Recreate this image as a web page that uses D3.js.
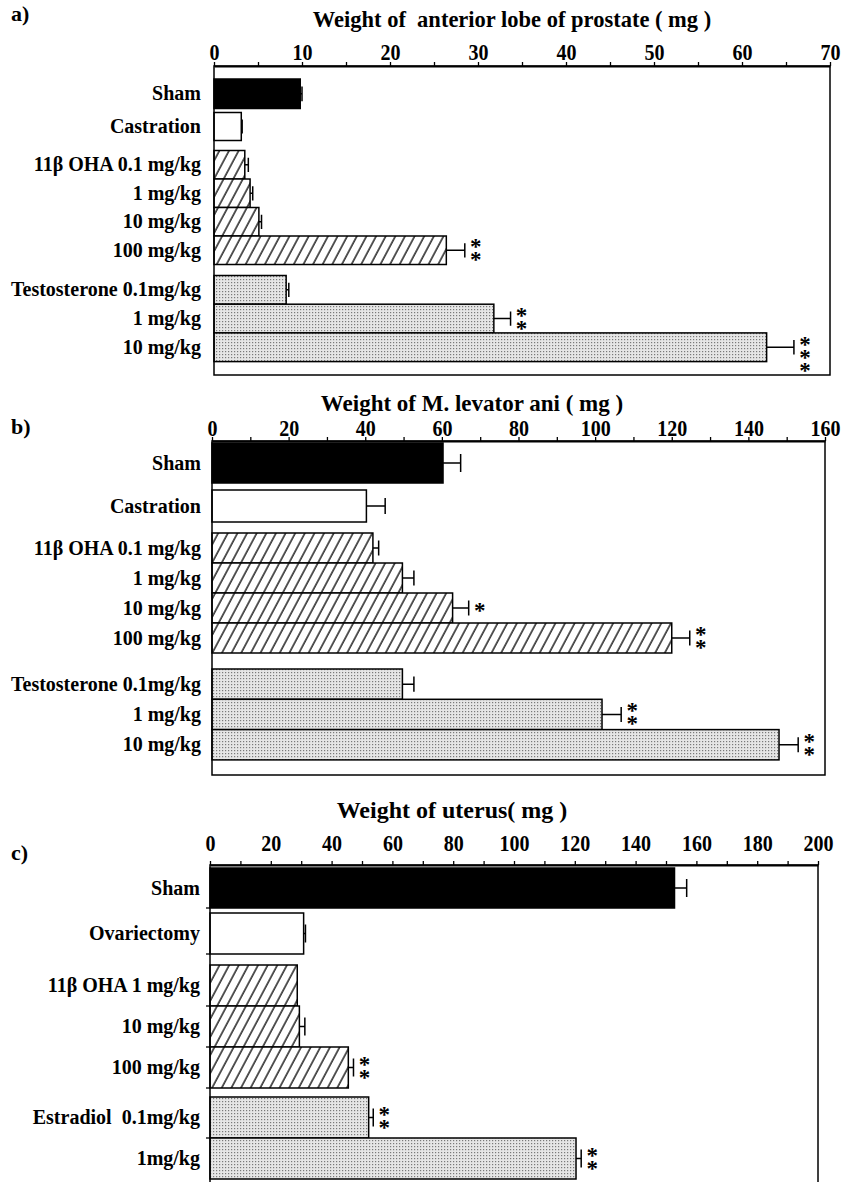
<!DOCTYPE html>
<html>
<head>
<meta charset="utf-8">
<script src="https://cdn.jsdelivr.net/npm/d3@7"></script>
<style>
  body { margin: 0; background: #fff; }
  text { font-family: "Liberation Serif", "Times New Roman", serif; font-weight: bold; fill: #000; }
</style>
</head>
<body>
<svg id="chart" width="842" height="1182"></svg>
<script>
// ---- panel a : anterior lobe of prostate
let labelsA = ["Sham", "Castration", "11β OHA 0.1 mg/kg", "1 mg/kg", "10 mg/kg", "100 mg/kg",
               "Testosterone 0.1mg/kg", "1 mg/kg", "10 mg/kg"];
let kindsA  = ["sham", "control", "hatch", "hatch", "hatch", "hatch", "dots", "dots", "dots"];
let valuesA = [9.8, 3.1, 3.5, 4.1, 5.1, 26.4, 8.2, 31.8, 62.8];
let errorsA = [0.2, 0.1, 0.4, 0.3, 0.3, 2.1, 0.3, 1.9, 3.1];
let starsA  = [0, 0, 0, 0, 0, 2, 0, 2, 3];
let ticksA  = [0, 10, 20, 30, 40, 50, 60, 70];

// ---- panel b : M. levator ani
let labelsB = ["Sham", "Castration", "11β OHA 0.1 mg/kg", "1 mg/kg", "10 mg/kg", "100 mg/kg",
               "Testosterone 0.1mg/kg", "1 mg/kg", "10 mg/kg"];
let kindsB  = ["sham", "control", "hatch", "hatch", "hatch", "hatch", "dots", "dots", "dots"];
let valuesB = [60.3, 40.3, 42, 49.7, 62.8, 120, 49.7, 101.8, 148];
let errorsB = [4.6, 4.9, 1.5, 3, 4.2, 4.7, 3, 5, 5];
let starsB  = [0, 0, 0, 0, 1, 2, 0, 2, 2];
let ticksB  = [0, 20, 40, 60, 80, 100, 120, 140, 160];

// ---- panel c : uterus
let labelsC = ["Sham", "Ovariectomy", "11β OHA 1 mg/kg", "10 mg/kg", "100 mg/kg",
               "Estradiol  0.1mg/kg", "1mg/kg"];
let kindsC  = ["sham", "control", "hatch", "hatch", "hatch", "dots", "dots"];
let valuesC = [152.8, 30.8, 28.7, 29.4, 45.5, 52.2, 120.4];
let errorsC = [4, 0.6, 0, 1.8, 1.7, 1.5, 1.7];
let starsC  = [0, 0, 0, 0, 2, 2, 2];
let ticksC  = [0, 20, 40, 60, 80, 100, 120, 140, 160, 180, 200];

let svg = d3.select("#chart");
let defs = svg.append("defs");

// diagonal hatching
let hatch = defs.append("pattern")
  .attr("id", "hatch")
  .attr("patternUnits", "userSpaceOnUse")
  .attr("width", 8.5).attr("height", 8.5)
  .attr("patternTransform", "rotate(28)");
hatch.append("rect").attr("width", 8.5).attr("height", 8.5).attr("fill", "#fff");
hatch.append("line")
  .attr("x1", 1).attr("y1", 0).attr("x2", 1).attr("y2", 8.5)
  .attr("stroke", "#000").attr("stroke-width", 1.3);

// stipple
let dots = defs.append("pattern")
  .attr("id", "dots")
  .attr("patternUnits", "userSpaceOnUse")
  .attr("width", 3).attr("height", 3);
dots.append("rect").attr("width", 3).attr("height", 3).attr("fill", "#e6e6e6");
dots.append("rect").attr("width", 1.2).attr("height", 1.2).attr("fill", "#7a7a7a");

let fills = { sham: "#000", control: "#fff", hatch: "url(#hatch)", dots: "url(#dots)" };

function rowTops(kinds, firstTop, heights, gaps) {
  let tops = [], hs = [];
  let y = firstTop, g = 0;
  kinds.forEach(function(k, i) {
    if (i > 0 && k !== kinds[i - 1]) { g++; y += gaps[g - 1]; }
    tops.push(y);
    hs.push(heights[g]);
    y += heights[g];
  });
  return { tops: tops, hs: hs };
}

function drawPanel(p) {
  let g = svg.append("g");
  let n = p.values.length;
  let idx = d3.range(n);

  let x = d3.scaleLinear()
    .domain([0, p.ticks[p.ticks.length - 1]])
    .range([p.x0, p.x1]);

  let rows = rowTops(p.kinds, p.firstTop, p.heights, p.gaps);
  let yTop = d3.scaleOrdinal().domain(idx).range(rows.tops);
  let yH = d3.scaleOrdinal().domain(idx).range(rows.hs);

  // bars
  g.selectAll(".bar")
    .data(idx)
    .enter().append("rect")
      .attr("class", "bar")
      .attr("x", x(0))
      .attr("y", i => yTop(i))
      .attr("width", i => x(p.values[i]) - x(0))
      .attr("height", i => yH(i))
      .attr("fill", i => fills[p.kinds[i]])
      .attr("stroke", "#000")
      .attr("stroke-width", 1.5);

  // error bars
  let withErr = idx.filter(i => p.errors[i] > 0);
  g.selectAll(".err")
    .data(withErr)
    .enter().append("path")
      .attr("class", "err")
      .attr("d", function(i) {
        let cy = yTop(i) + yH(i) / 2;
        let cap = Math.min(18, yH(i) * 0.5);
        let xa = x(p.values[i]), xb = x(p.values[i] + p.errors[i]);
        return "M" + xa + "," + cy + "H" + xb + "M" + xb + "," + (cy - cap / 2) + "V" + (cy + cap / 2);
      })
      .attr("fill", "none")
      .attr("stroke", "#000")
      .attr("stroke-width", 1.5);

  // significance stars, stacked in one text
  let offsets = { 1: [0], 2: [-6, 7], 3: [-5, 8, 21] };
  let starred = idx.filter(i => p.stars[i] > 0);
  let st = g.selectAll(".stars")
    .data(starred)
    .enter().append("text")
      .attr("class", "stars")
      .attr("text-anchor", "middle")
      .style("font-size", "23px");
  st.each(function(i) {
    let cy = yTop(i) + yH(i) / 2;
    let sx = x(p.values[i] + p.errors[i]) + 11;
    let t = d3.select(this);
    offsets[p.stars[i]].forEach(function(o) {
      t.append("tspan")
        .attr("x", sx)
        .attr("y", cy + o + 10)
        .text("*");
    });
  });

  // frame
  g.append("rect")
    .attr("x", p.x0).attr("y", p.axisY)
    .attr("width", p.x1 - p.x0).attr("height", p.bottom - p.axisY)
    .attr("fill", "none")
    .attr("stroke", "#000")
    .attr("stroke-width", 1.5);

  // left ticks at row boundaries (panel c)
  if (p.leftTicks) {
    g.selectAll(".ltick")
      .data(idx.slice(0, n - 1))
      .enter().append("line")
        .attr("x1", p.x0 - 4).attr("x2", p.x0)
        .attr("y1", i => yTop(i) + yH(i))
        .attr("y2", i => yTop(i) + yH(i))
        .attr("stroke", "#000").attr("stroke-width", 1.3);
  }

  // top axis
  let axis = d3.axisTop(x)
    .tickValues(d3.range(0, x.domain()[1] + 0.001, p.minorStep))
    .tickSize(4)
    .tickSizeOuter(0)
    .tickPadding(p.tickPad)
    .tickFormat(d => p.ticks.indexOf(d) >= 0 ? d : "");
  let ax = g.append("g")
    .attr("transform", "translate(0," + p.axisY + ")")
    .call(axis);
  ax.select(".domain").attr("stroke-width", 2);
  ax.selectAll(".tick line").attr("stroke-width", 1.3);
  ax.selectAll(".tick text")
    .attr("transform", "scale(0.87,1)")
    .style("font-family", "'Liberation Serif', serif")
    .style("font-weight", "bold")
    .style("font-size", "23px");

  // category labels
  g.selectAll(".cat")
    .data(idx)
    .enter().append("text")
      .attr("class", "cat")
      .attr("x", p.labelX)
      .attr("y", i => yTop(i) + yH(i) / 2 + 6.5)
      .attr("text-anchor", "end")
      .style("font-size", "20px")
      .style("white-space", "pre")
      .text(i => p.labels[i]);

  // title & panel tag
  g.append("text")
    .attr("x", p.titleX).attr("y", p.titleY)
    .attr("text-anchor", "middle")
    .style("font-size", p.titleSize + "px")
    .style("white-space", "pre")
    .text(p.title);

  g.append("text")
    .attr("x", 11).attr("y", p.tagY)
    .style("font-size", "22px")
    .text(p.tag);
}

drawPanel({
  labels: labelsA, kinds: kindsA, values: valuesA, errors: errorsA, stars: starsA, ticks: ticksA,
  minorStep: 5, x0: 214, x1: 830, axisY: 66, bottom: 375, firstTop: 79,
  heights: [29.5, 28, 28.5, 28.7], gaps: [4, 10, 11], tickPad: 2,
  labelX: 201, title: "Weight of  anterior lobe of prostate ( mg )", titleX: 512, titleY: 27, titleSize: 22.5,
  tag: "a)", tagY: 21
});

drawPanel({
  labels: labelsB, kinds: kindsB, values: valuesB, errors: errorsB, stars: starsB, ticks: ticksB,
  minorStep: 10, x0: 212, x1: 825, axisY: 441, bottom: 775, firstTop: 443,
  heights: [40, 32, 30, 30.3], gaps: [7, 11, 16], tickPad: 1,
  labelX: 201, title: "Weight of M. levator ani ( mg )", titleX: 472, titleY: 411, titleSize: 23,
  tag: "b)", tagY: 434
});

drawPanel({
  labels: labelsC, kinds: kindsC, values: valuesC, errors: errorsC, stars: starsC, ticks: ticksC,
  minorStep: 10, x0: 210, x1: 818, axisY: 865, bottom: 1195, firstTop: 868,
  heights: [40, 41, 41, 41], gaps: [5, 11, 9], tickPad: 10, leftTicks: true,
  labelX: 200, title: "Weight of uterus( mg )", titleX: 452, titleY: 818, titleSize: 24,
  tag: "c)", tagY: 860
});
</script>
</body>
</html>
